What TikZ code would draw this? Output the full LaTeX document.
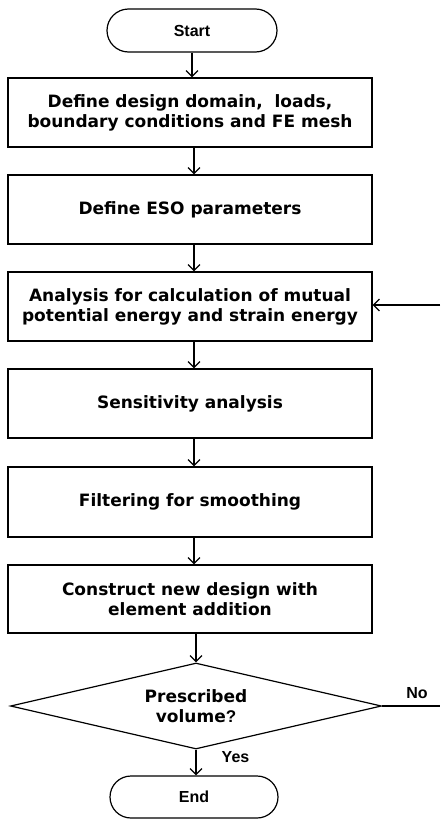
\documentclass[tikz,border=0pt]{standalone}
\usepackage{fontspec}
\setmainfont{DejaVu Sans}
\newfontfamily\arialfont{Liberation Sans}
\usetikzlibrary{shapes.misc,shapes.geometric,arrows.meta}
\begin{document}
\begin{tikzpicture}[x=1pt,y=1pt,
  line width=1.2pt,
  stepbox/.style={draw, rectangle, minimum width=364pt, inner sep=0pt, align=center,
     font=\fontsize{17}{20}\selectfont\bfseries},
  term/.style={draw, rounded rectangle, inner sep=0pt,
     font=\arialfont\fontsize{16}{19}\selectfont\bfseries},
  decision/.style={draw, diamond, shape aspect=4.31, inner sep=0pt,
     minimum width=371pt, minimum height=86pt, align=center,
     font=\fontsize{17}{20}\selectfont\bfseries},
  lbl/.style={font=\arialfont\fontsize{16}{19}\selectfont\bfseries, inner sep=0pt},
  arr/.style={-{Straight Barb[length=6pt,width=12pt]}, line width=1.2pt}
]
\useasboundingbox (0,0) rectangle (440,-819);

\node[term, minimum width=170pt, minimum height=43pt] (start) at (192,-30.5) {Start};
\node[stepbox, minimum height=69pt] (b1) at (190,-112.5) {Define design domain,\ \ loads,\\boundary conditions and FE mesh};
\node[stepbox, minimum height=69pt] (b2) at (190,-209.5) {Define ESO parameters};
\node[stepbox, minimum height=69pt] (b3) at (190,-306.5) {Analysis for calculation of mutual\\potential energy and strain energy};
\node[stepbox, minimum height=69pt] (b4) at (190,-403.5) {Sensitivity analysis};
\node[stepbox, minimum height=70pt] (b5) at (190,-502) {Filtering for smoothing};
\node[stepbox, minimum height=68pt] (b6) at (190,-599) {Construct new design with\\element addition};
\node[decision] (dec) at (196,-706) {Prescribed\\volume{\arialfont ?}};
\node[term, minimum width=168pt, minimum height=42pt] (end) at (194,-797) {End};

\coordinate (noR) at (440,-706);
\coordinate (loopR) at (440,-305);

\draw[arr] (start.south) -- (start.south |- b1.north);
\draw[arr] ([xshift=4pt]b1.south) -- ([xshift=4pt]b2.north);
\draw[arr] ([xshift=4pt]b2.south) -- ([xshift=4pt]b3.north);
\draw[arr] ([xshift=4pt]b3.south) -- ([xshift=4pt]b4.north);
\draw[arr] ([xshift=4pt]b4.south) -- ([xshift=4pt]b5.north);
\draw[arr] ([xshift=4pt]b5.south) -- ([xshift=4pt]b6.north);
\draw[arr] (dec.north |- b6.south) -- (dec.north);
\draw[arr] (dec.south) -- (dec.south |- end.north);
\draw (dec.east) -- (noR);
\draw[arr] (loopR) -- (loopR -| b3.east);

\node[lbl] (no) at (417,-693) {No};
\node[lbl] (yes) at (235.5,-757) {Yes};
\end{tikzpicture}
\end{document}
